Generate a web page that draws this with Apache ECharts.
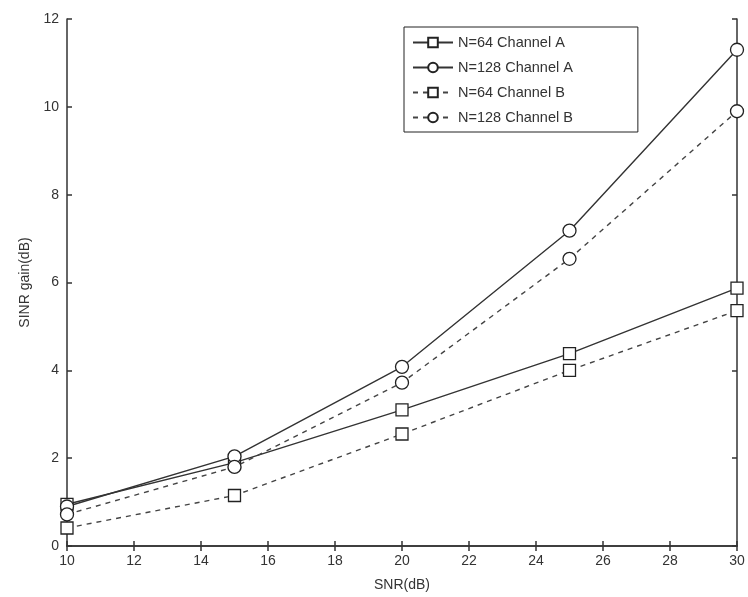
<!DOCTYPE html>
<html>
<head>
<meta charset="utf-8">
<script src="https://cdn.jsdelivr.net/npm/echarts@6/dist/echarts.min.js"></script>
<style>
  html, body { margin: 0; padding: 0; background: #fff; }
  #chart { width: 748px; height: 597px; }
</style>
</head>
<body>
<div id="chart"></div>
<script>
var snr = [10, 15, 20, 25, 30];
var n64A = [0.95, 1.9, 3.1, 4.38, 5.87];
var n128A = [0.9, 2.04, 4.08, 7.18, 11.3];
var n64B = [0.41, 1.15, 2.55, 4.0, 5.36];
var n128B = [0.72, 1.8, 3.72, 6.54, 9.9];
var seriesNames = ['N=64 Channel A', 'N=128 Channel A', 'N=64 Channel B', 'N=128 Channel B'];

function pairs(ys) {
    return snr.map(function (x, i) { return [x, ys[i]]; });
}

function makeSeries(name, ys, symbol, dashed) {
    return {
        name: name,
        type: 'line',
        data: pairs(ys),
        symbol: symbol,
        symbolSize: symbol == 'rect' ? 12 : 13,
        lineStyle: { color: dashed ? '#444' : '#333', width: 1.4, type: dashed ? [5, 5] : 'solid' },
        itemStyle: { color: '#fff', borderColor: '#222', borderWidth: 1.3 },
        emphasis: { disabled: true },
        animation: false
    };
}

var axisLine = { lineStyle: { color: '#333', width: 1.5 } };
var tick = { inside: true, length: 5, lineStyle: { color: '#333', width: 1.5 } };
var label = { color: '#333', fontSize: 14, fontFamily: 'Liberation Sans' };

var dom = document.getElementById('chart');
var myChart = echarts.init(dom);
var option = {
    backgroundColor: '#fff',
    textStyle: { fontFamily: 'Liberation Sans' },
    grid: { left: 67, right: 11, top: 19, bottom: 51 },
    legend: {
        data: seriesNames,
        orient: 'vertical',
        left: 404,
        top: 27,
        itemWidth: 40,
        itemHeight: 12,
        itemGap: 10,
        padding: [8, 65, 7, 8],
        backgroundColor: '#fff',
        borderColor: '#222',
        borderWidth: 1,
        textStyle: { color: '#333', fontSize: 14.5, fontFamily: 'Liberation Sans' }
    },
    xAxis: [{
        type: 'value', min: 10, max: 30, interval: 2,
        name: 'SNR(dB)', nameLocation: 'middle', nameGap: 32,
        nameTextStyle: { color: '#333', fontSize: 14 },
        axisLine: axisLine, axisTick: tick, axisLabel: label,
        splitLine: { show: false }
    }, {
        type: 'value', min: 10, max: 30, interval: 2, position: 'top',
        axisLine: axisLine, axisTick: tick, axisLabel: { show: false },
        splitLine: { show: false }
    }],
    yAxis: [{
        type: 'value', min: 0, max: 12, interval: 2,
        name: 'SINR gain(dB)', nameLocation: 'middle', nameGap: 34,
        nameTextStyle: { color: '#333', fontSize: 14 },
        axisLine: axisLine, axisTick: tick, axisLabel: label,
        splitLine: { show: false }
    }, {
        type: 'value', min: 0, max: 12, interval: 2, position: 'right',
        axisLine: axisLine, axisTick: tick, axisLabel: { show: false },
        splitLine: { show: false }
    }],
    series: [
        makeSeries(seriesNames[0], n64A, 'rect', false),
        makeSeries(seriesNames[1], n128A, 'circle', false),
        makeSeries(seriesNames[2], n64B, 'rect', true),
        makeSeries(seriesNames[3], n128B, 'circle', true)
    ]
};

if (option && typeof option === "object") {
    myChart.setOption(option, true);
}
</script>
</body>
</html>
